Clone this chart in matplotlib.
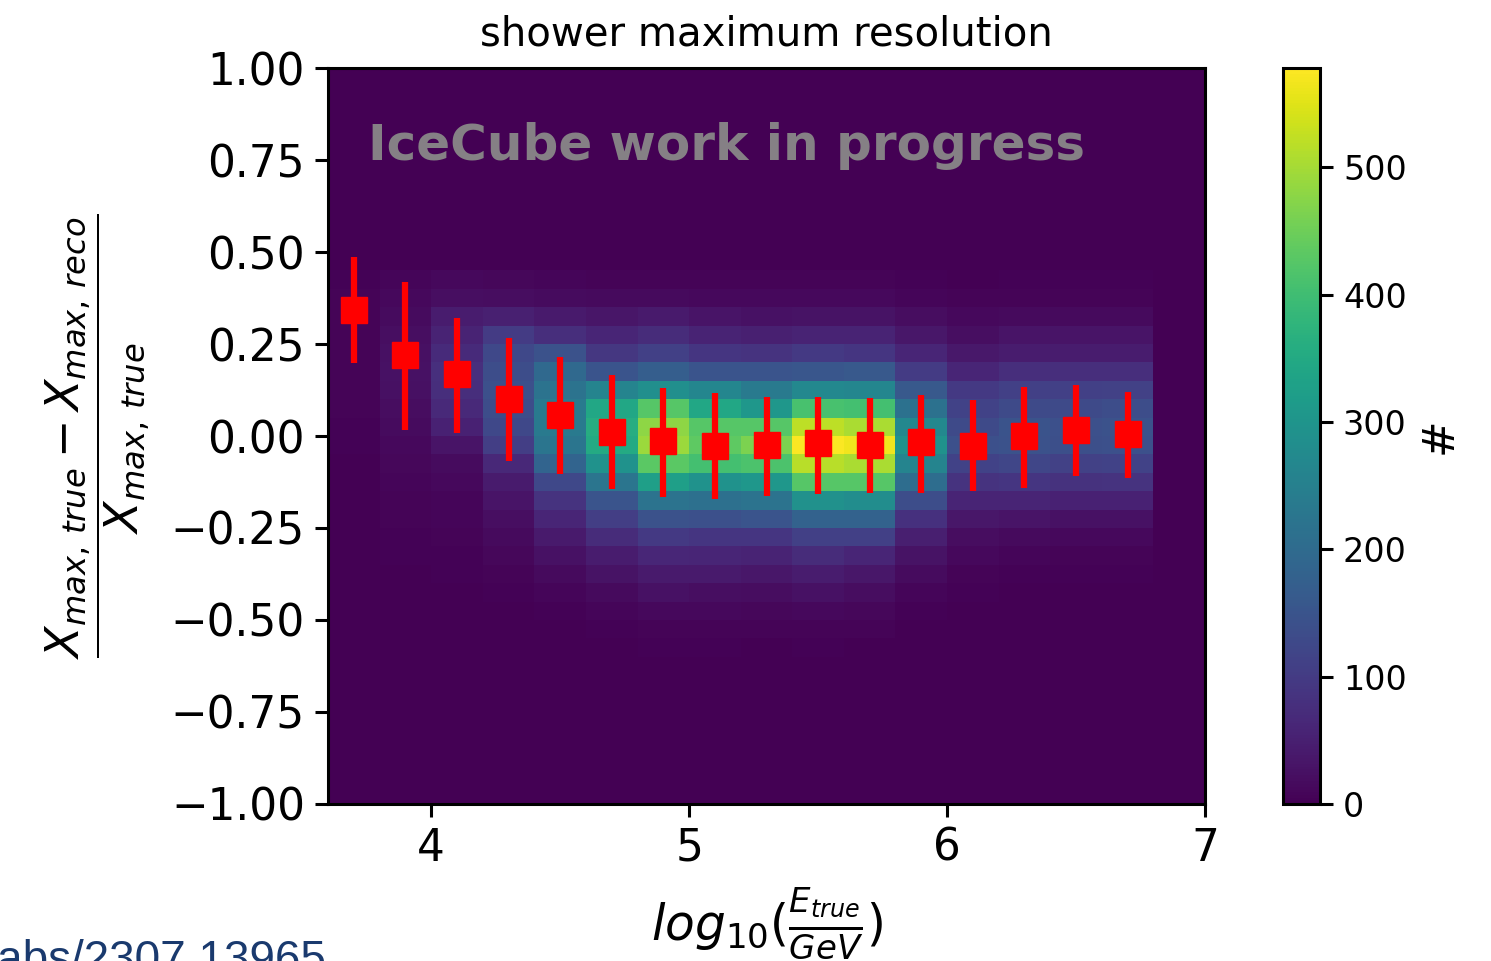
import numpy as np
import matplotlib
matplotlib.use("Agg")
import matplotlib.pyplot as plt

# log10(E_true / GeV) binning (the last bin holds no events)
energy_edges = [3.6, 3.8, 4.0, 4.2, 4.4, 4.6, 4.8, 5.0, 5.2,
                5.4, 5.6, 5.8, 6.0, 6.2, 6.4, 6.6, 6.8, 7.0]
energy_centres = [3.7, 3.9, 4.1, 4.3, 4.5, 4.7, 4.9, 5.1,
                  5.3, 5.5, 5.7, 5.9, 6.1, 6.3, 6.5, 6.7]

# relative Xmax resolution binning (width 0.05 from -1 to 1)
res_lo, res_hi, res_width = -1.0, 1.0, 0.05

# event counts per energy bin, resolution rows listed from the
# [0.40, 0.45) bin (top) down to the [-0.60, -0.55) bin (bottom);
# all other resolution bins are empty
top_row_lower_edge = 0.40
counts_e37 = [4, 5, 6, 6, 6, 6, 5, 5, 4, 3, 2, 2, 1, 1, 1, 0, 0, 0, 0, 0, 0]
counts_e39 = [8, 12, 18, 22, 24, 25, 24, 20, 16, 12, 10, 8, 6, 5, 4, 3, 2, 1, 1, 0, 0]
counts_e41 = [12, 22, 45, 55, 68, 78, 75, 66, 52, 30, 18, 12, 9, 7, 5, 4, 3, 2, 1, 1, 0]
counts_e43 = [10, 20, 50, 100, 125, 135, 140, 135, 125, 105, 65, 42, 30, 22, 15, 10, 6, 4, 2, 1, 0]
counts_e45 = [8, 18, 40, 75, 145, 195, 220, 235, 235, 225, 185, 125, 85, 60, 40, 25, 15, 8, 4, 2, 1]
counts_e47 = [6, 15, 32, 60, 92, 150, 260, 345, 360, 350, 295, 225, 150, 105, 70, 45, 28, 15, 8, 4, 2]
counts_e49 = [6, 15, 40, 70, 110, 170, 285, 425, 480, 490, 430, 325, 220, 145, 95, 62, 40, 25, 12, 6, 3]
counts_e51 = [5, 12, 30, 55, 90, 150, 265, 345, 425, 435, 405, 295, 210, 140, 90, 60, 40, 22, 12, 6, 3]
counts_e53 = [5, 12, 25, 50, 85, 150, 235, 305, 425, 465, 415, 305, 220, 150, 90, 55, 35, 20, 10, 5, 2]
counts_e55 = [5, 12, 28, 55, 95, 155, 270, 410, 520, 575, 515, 425, 290, 180, 110, 70, 45, 25, 12, 6, 3]
counts_e57 = [5, 12, 28, 55, 90, 160, 265, 405, 505, 565, 505, 425, 280, 180, 110, 60, 35, 20, 10, 5, 2]
counts_e59 = [3, 8, 20, 35, 60, 100, 160, 215, 270, 295, 260, 205, 135, 80, 48, 28, 16, 8, 4, 2, 1]
counts_e61 = [2, 5, 12, 22, 38, 60, 95, 115, 130, 140, 115, 85, 58, 35, 20, 12, 6, 3, 2, 1, 0]
counts_e63 = [3, 6, 15, 30, 45, 75, 110, 130, 148, 145, 120, 90, 58, 30, 15, 8, 4, 2, 1, 0, 0]
counts_e65 = [3, 6, 15, 30, 45, 75, 110, 130, 142, 138, 112, 82, 52, 26, 12, 6, 3, 2, 1, 0, 0]
counts_e67 = [3, 6, 15, 30, 45, 75, 112, 135, 146, 140, 115, 85, 52, 26, 12, 6, 3, 2, 1, 0, 0]

counts_by_energy = [counts_e37, counts_e39, counts_e41, counts_e43,
                    counts_e45, counts_e47, counts_e49, counts_e51,
                    counts_e53, counts_e55, counts_e57, counts_e59,
                    counts_e61, counts_e63, counts_e65, counts_e67]

# median and central-interval bounds of the resolution per energy bin
res_median = [0.342, 0.220, 0.168, 0.100, 0.057, 0.011, -0.014, -0.027,
              -0.024, -0.019, -0.024, -0.016, -0.027, 0.000, 0.016, 0.005]
res_upper = [0.486, 0.418, 0.321, 0.266, 0.215, 0.166, 0.130, 0.117,
             0.106, 0.106, 0.103, 0.111, 0.098, 0.133, 0.139, 0.120]
res_lower = [0.198, 0.016, 0.008, -0.068, -0.103, -0.144, -0.166, -0.171,
             -0.163, -0.158, -0.155, -0.155, -0.149, -0.141, -0.109, -0.114]

# ---------------------------------------------------------------------------
res_edges = np.round(np.arange(res_lo, res_hi + res_width / 2, res_width), 4)
n_res = len(res_edges) - 1
hist = np.zeros((n_res, len(energy_edges) - 1))
top_idx = int(round((top_row_lower_edge - res_lo) / res_width))
for j, col in enumerate(counts_by_energy):
    for k, c in enumerate(col):
        hist[top_idx - k, j] = c

vmax = 578

fig = plt.figure(figsize=(14.91, 9.61), dpi=100)
ax = fig.add_axes([0.2200, 0.1634, 0.5882, 0.7658])
cax = fig.add_axes([0.8605, 0.1634, 0.0248, 0.7658])

mesh = ax.pcolormesh(energy_edges, res_edges, hist, cmap="viridis",
                     vmin=0, vmax=vmax, shading="flat")

med = np.array(res_median)
yerr = [med - np.array(res_lower), np.array(res_upper) - med]
ax.errorbar(energy_centres, res_median, yerr=yerr, fmt="s", color="red",
            ecolor="red", markersize=19, elinewidth=4.5, capsize=0,
            linestyle="none")

ax.set_xlim(3.6, 7.0)
ax.set_ylim(-1.0, 1.0)
ax.set_xticks([4, 5, 6, 7])
ax.set_yticks(np.arange(-1.0, 1.01, 0.25))

for s in ax.spines.values():
    s.set_linewidth(2.2)
ax.tick_params(axis="both", labelsize=31.5, length=9.5, width=2.2, pad=7)

ax.set_title("shower maximum resolution", fontsize=29, pad=16)
ax.set_xlabel(r"$log_{10}(\frac{E_{true}}{GeV})$", fontsize=35, labelpad=11)
ax.set_ylabel(r"$\dfrac{X_{max,\/true} - X_{max,\/reco}}{X_{max,\/true}}$",
              fontsize=33, labelpad=13)

ax.text(3.755, 0.75, "IceCube work in progress", fontsize=36,
        fontweight="bold", color="#858085", ha="left", va="baseline")

cb = fig.colorbar(mesh, cax=cax)
cb.set_ticks([0, 100, 200, 300, 400, 500])
cb.outline.set_linewidth(2.2)
cb.ax.tick_params(labelsize=24, length=9.5, width=2.2, pad=7)
cb.set_label("#", fontsize=31.5, labelpad=8)

fig.text(-0.002, -0.0125, "abs/2307.13965", fontsize=33,
         family="Liberation Sans", color="#1a3a6e", ha="left",
         va="baseline")

fig.savefig("out.png", dpi=100)
